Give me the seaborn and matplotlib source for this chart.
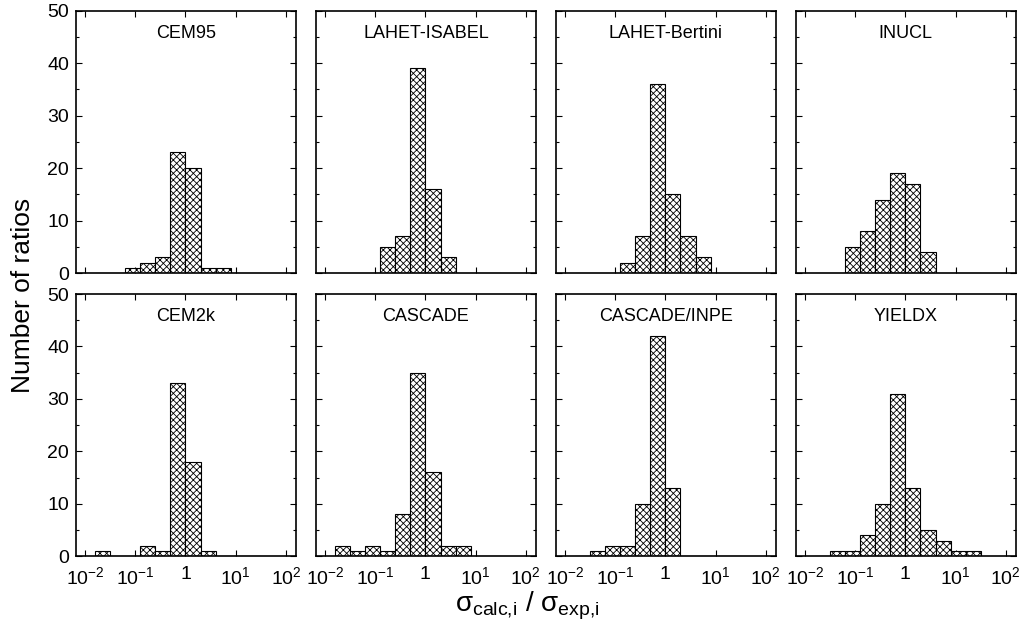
import numpy as np
import pandas as pd
import matplotlib
matplotlib.use("Agg")
import matplotlib.pyplot as plt
import seaborn as sns
from matplotlib.ticker import FixedLocator, FixedFormatter, MultipleLocator

# bins are factors of two: lower edges 2**k, k = -6 .. 4
bin_lower_exp = list(range(-6, 5))

models = ["CEM95", "LAHET-ISABEL", "LAHET-Bertini", "INUCL",
          "CEM2k", "CASCADE", "CASCADE/INPE", "YIELDX"]

cem95 = [0, 0, 1, 2, 3, 23, 20, 1, 1, 0, 0]
lahet_isabel = [0, 0, 0, 5, 7, 39, 16, 3, 0, 0, 0]
lahet_bertini = [0, 0, 0, 2, 7, 36, 15, 7, 3, 0, 0]
inucl = [0, 0, 5, 8, 14, 19, 17, 4, 0, 0, 0]
cem2k = [1, 0, 0, 2, 1, 33, 18, 1, 0, 0, 0]
cascade = [2, 1, 2, 1, 8, 35, 16, 2, 2, 0, 0]
cascade_inpe = [0, 1, 2, 2, 10, 42, 13, 0, 0, 0, 0]
yieldx = [0, 1, 1, 4, 10, 31, 13, 5, 3, 1, 1]

counts = [cem95, lahet_isabel, lahet_bertini, inucl,
          cem2k, cascade, cascade_inpe, yieldx]

xtick_vals = [1e-2, 1e-1, 1, 1e1, 1e2]
xtick_labels = ["$10^{-2}$", "$10^{-1}$", "1", "$10^{1}$", "$10^{2}$"]

sns.set_style("ticks")
plt.rcParams["font.family"] = ["Liberation Sans", "DejaVu Sans"]
plt.rcParams["mathtext.fontset"] = "custom"
plt.rcParams["mathtext.rm"] = "Liberation Sans"
plt.rcParams["mathtext.it"] = "Liberation Sans:italic"
plt.rcParams["mathtext.sf"] = "Liberation Sans"
plt.rcParams["hatch.linewidth"] = 0.6
plt.rcParams["text.color"] = "black"

fig, axes = plt.subplots(2, 4, figsize=(10.24, 6.35), dpi=100, sharex=True, sharey=True)
fig.subplots_adjust(left=0.0742, right=0.992, top=0.983, bottom=0.124,
                    wspace=20 / 220, hspace=21 / 262)

exps = np.array(bin_lower_exp, dtype=float)
centers = 2.0 ** (exps + 0.5)
# bin edges in log10 units (seaborn bins in transformed space with log_scale)
edges_log = list(np.log10(2.0 ** np.append(exps, exps[-1] + 1)))

for ax, name, c in zip(axes.flat, models, counts):
    df = pd.DataFrame({"ratio": centers, "n": c})
    sns.histplot(data=df, x="ratio", weights="n", bins=edges_log, log_scale=True, ax=ax,
                 color="white", edgecolor="black", linewidth=0.8, alpha=1,
                 hatch="xxxxx")
    ax.set_xlim(10 ** -2.18, 10 ** 2.2)
    ax.set_ylim(0, 50)
    ax.set_ylabel("")
    ax.set_xlabel("")
    ax.text(0.5, 0.915, name, transform=ax.transAxes, ha="center", va="center",
            fontsize=13, color="black")
    ax.xaxis.set_major_locator(FixedLocator(xtick_vals))
    ax.xaxis.set_major_formatter(FixedFormatter(xtick_labels))
    ax.xaxis.set_minor_locator(FixedLocator([]))
    ax.yaxis.set_major_locator(MultipleLocator(10))
    ax.yaxis.set_minor_locator(MultipleLocator(5))
    ax.tick_params(which="both", direction="in", top=True, right=True, labelsize=14,
                   width=0.8, color="black", labelcolor="black")
    ax.tick_params(axis="x", pad=7)
    ax.tick_params(axis="y", pad=5)
    ax.tick_params(which="major", length=4)
    ax.tick_params(which="minor", length=2.5)
    for s in ax.spines.values():
        s.set_linewidth(1.2)
        s.set_color("black")

fig.text(0.022, 0.535, "Number of ratios", rotation=90, ha="center", va="center",
         fontsize=19, color="black")
fig.text(0.515, 0.046, r"$\mathrm{\sigma_{calc{,}i}}$ / $\mathrm{\sigma_{exp{,}i}}$",
         ha="center", va="center", fontsize=20, color="black")

fig.savefig("out.png", dpi=100)
